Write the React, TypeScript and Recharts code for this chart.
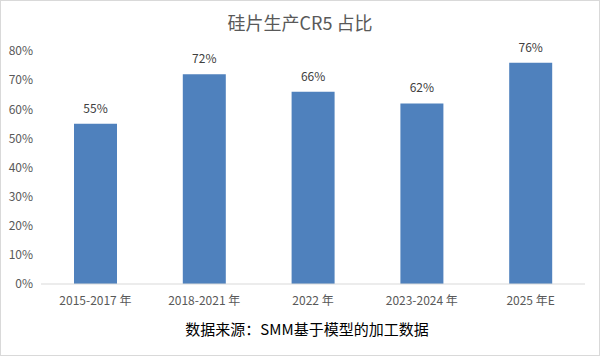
import { BarChart, Bar, XAxis, YAxis, LabelList } from "recharts"

const periods = ["2015-2017 年", "2018-2021 年", "2022 年", "2023-2024 年", "2025 年E"]
const cr5Share = [0.55, 0.72, 0.66, 0.62, 0.76]
const yTicks = [0, 0.1, 0.2, 0.3, 0.4, 0.5, 0.6, 0.7, 0.8]

const BLUE = "#4F81BD"
const GREY = "#595959"
const FONT = "'Noto Sans CJK SC', 'Open Sans', sans-serif"

const pct = (v: number) => `${Math.round(v * 100)}%`

export default function App() {
  const data = periods.map((p, i) => ({ period: p, share: cr5Share[i] }))

  return (
    <div style={{ position: "absolute", left: 0, top: 0, width: 600, height: 356, background: "#fff", fontFamily: FONT }}>
      <div style={{ position: "absolute", inset: 0, border: "1px solid #D9D9D9", boxSizing: "border-box", pointerEvents: "none" }} />
      <div style={{ position: "absolute", top: 8, width: "100%", textAlign: "center", fontSize: 18, color: GREY, lineHeight: "28px" }}>
        硅片生产CR5 占比
      </div>

      <BarChart width={600} height={320} data={data} margin={{ top: 51, right: 15, left: 0, bottom: 0 }}>
        <XAxis
          dataKey="period"
          tickLine={false}
          axisLine={{ stroke: "#D9D9D9" }}
          tick={{ fontSize: 12, fill: GREY, fontFamily: FONT }}
          height={36}
          tickMargin={6}
        />
        <YAxis
          type="number"
          domain={[0, 0.8]}
          ticks={yTicks}
          tickFormatter={pct}
          axisLine={false}
          tickLine={false}
          width={41}
          tick={{ fontSize: 12, fill: GREY, fontFamily: FONT }}
        />
        <Bar dataKey="share" fill={BLUE} barSize={43} isAnimationActive={false}>
          <LabelList dataKey="share" position="top" offset={11} formatter={(v: any) => pct(Number(v))} style={{ fontSize: 12, fill: "#404040", fontFamily: FONT }} />
        </Bar>
      </BarChart>

      <div style={{ position: "absolute", top: 318, width: "100%", textAlign: "center", fontSize: 15, color: "#000", lineHeight: "22px", paddingLeft: 14, boxSizing: "border-box" }}>
        数据来源：SMM基于模型的加工数据
      </div>
    </div>
  )
}
